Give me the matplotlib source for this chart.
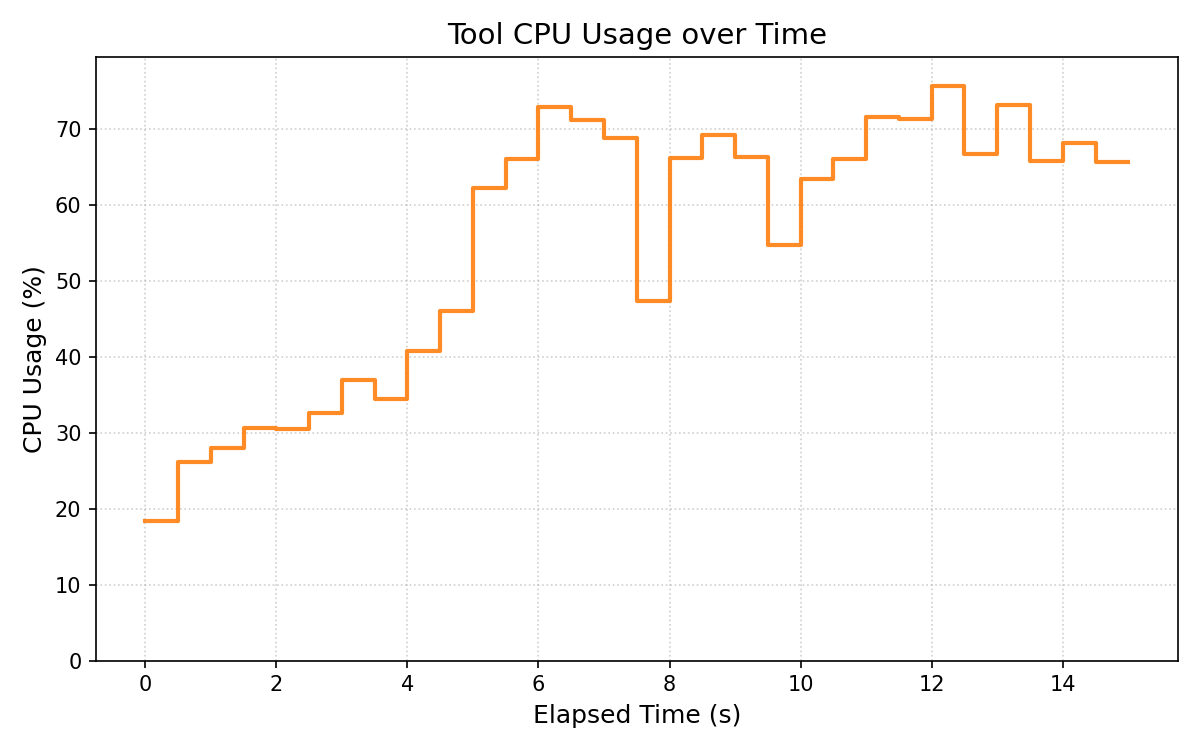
import matplotlib
matplotlib.use('Agg')
import matplotlib.pyplot as plt


# sampled every 0.5 s
elapsed_s = [0.0, 0.5, 1.0, 1.5, 2.0, 2.5, 3.0, 3.5, 4.0, 4.5,
             5.0, 5.5, 6.0, 6.5, 7.0, 7.5, 8.0, 8.5, 9.0, 9.5,
             10.0, 10.5, 11.0, 11.5, 12.0, 12.5, 13.0, 13.5, 14.0, 14.5, 15.0]
cpu_pct = [18.4, 26.2, 28.0, 30.6, 30.5, 32.6, 36.9, 34.4, 40.8, 46.0,
           62.2, 66.0, 72.9, 71.2, 68.8, 47.3, 66.2, 69.2, 66.3, 54.7,
           63.4, 66.0, 71.6, 71.3, 75.7, 66.7, 73.2, 65.8, 68.2, 65.6, 65.6]


def main():
    fig, ax = plt.subplots(figsize=(8, 5), dpi=150)

    ax.step(elapsed_s, cpu_pct, where='post', color='tab:orange',
            linewidth=2, alpha=0.9)

    ax.set_ylim(0, max(cpu_pct) * 1.05)
    ax.grid(True, linestyle=':', alpha=0.6)

    ax.set_xlabel('Elapsed Time (s)', fontsize=12)
    ax.set_ylabel('CPU Usage (%)', fontsize=12)
    ax.set_title('Tool CPU Usage over Time', fontsize=14)

    fig.tight_layout()
    fig.savefig('out.png')


main()
